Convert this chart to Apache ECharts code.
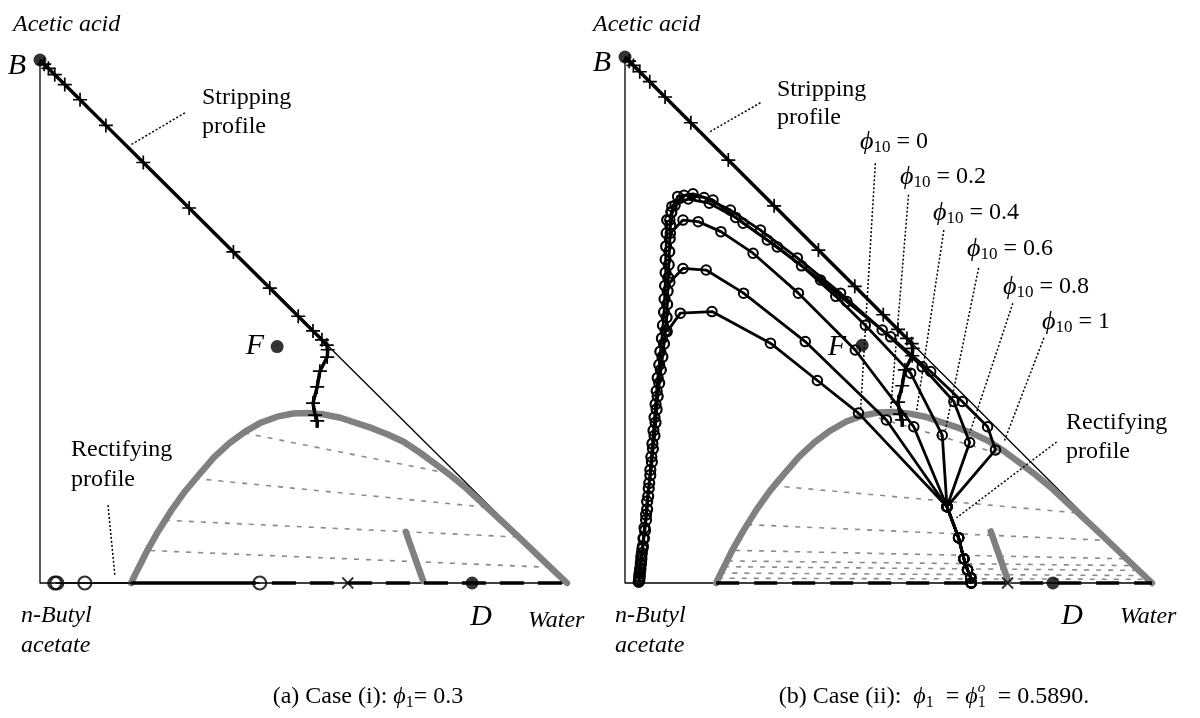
<!DOCTYPE html>
<html><head><meta charset="utf-8">
<script src="https://cdn.jsdelivr.net/npm/echarts@6.0.0/dist/echarts.min.js"></script>
<style>html,body{margin:0;padding:0;background:#fff}#c{width:1200px;height:718px}</style>
</head><body><div id="c"></div>
<script>
// ---- data (x = water fraction, y = acetic acid fraction) ----
const triangle = [[0,1],[0,0],[1,0],[0,1]];
const binodal = [[0.173,0],[0.18,0.015],[0.19,0.035],[0.205,0.065],[0.225,0.1],[0.25,0.14],[0.275,0.175],[0.30,0.205],[0.33,0.24],[0.36,0.268],[0.39,0.29],[0.42,0.307],[0.45,0.318],[0.48,0.324],[0.51,0.325],[0.54,0.322],[0.57,0.316],[0.60,0.306],[0.63,0.296],[0.66,0.284],[0.69,0.27],[0.72,0.25],[0.75,0.228],[0.78,0.205],[0.81,0.18],[0.84,0.152],[0.87,0.124],[0.90,0.096],[0.93,0.067],[0.96,0.038],[0.98,0.019],[1.0,0]];
const grayStub = [[0.694,0.098],[0.727,0.004]];
const tieLeft = [[[0.387,0.287],[0.763,0.212]],[[0.293,0.200],[0.845,0.145]],[[0.237,0.120],[0.905,0.088]],[[0.209,0.062],[0.968,0.030]]];
const tieRight = [[[0.46,0.320],[0.74,0.237]],[[0.28,0.185],[0.86,0.133]],[[0.232,0.111],[0.915,0.081]],[[0.209,0.062],[0.95,0.046]],[[0.195,0.042],[0.965,0.033]],[[0.188,0.031],[0.975,0.024]],[[0.181,0.019],[0.985,0.014]],[[0.176,0.009],[0.992,0.007]]];
const stripping = [[0,1],[0.008,0.992],[0.016,0.984],[0.028,0.972],[0.047,0.953],[0.076,0.924],[0.125,0.875],[0.196,0.804],[0.283,0.717],[0.367,0.633],[0.436,0.564],[0.490,0.510],[0.518,0.482],[0.535,0.465],[0.544,0.455],[0.546,0.446],[0.545,0.432],[0.531,0.405],[0.526,0.375],[0.518,0.344],[0.522,0.321],[0.526,0.310],[0.526,0.297]];
const bottomSolidLeft = [[0.173,0],[0.41,0]];
const bottomDashLeft = [[0.44,0],[1,0]];
const bottomDashRight = [[0.173,0],[1,0]];
const rectLeftLine = [[0.03,0],[0.417,0]];
const rectLeftCircles = [[0.028,0],[0.032,0],[0.085,0],[0.417,0]];
const pointB = [[0,1]];
const pointF = [[0.45,0.452]];
const pointDLeft = [[0.82,0]];
const pointDRight = [[0.812,0]];
const crossLeft = [[0.584,0]];
const crossRight = [[0.726,0]];
// right panel rectifying profiles
const distStack = [[0.657,0.000],[0.656,0.010],[0.650,0.025],[0.643,0.046],[0.633,0.086],[0.611,0.145]];
const upperPhi0 = [[0.443,0.323],[0.365,0.385],[0.276,0.456],[0.165,0.516],[0.105,0.513],[0.080,0.478]];
const upperPhi02 = [[0.496,0.310],[0.342,0.459],[0.225,0.551],[0.154,0.595],[0.110,0.598],[0.085,0.572]];
const upperPhi04 = [[0.548,0.297],[0.437,0.443],[0.329,0.551],[0.243,0.627],[0.182,0.668],[0.139,0.687],[0.110,0.690],[0.086,0.665]];
const upperPhi06 = [[0.602,0.281],[0.542,0.399],[0.456,0.490],[0.400,0.545],[0.335,0.603],[0.270,0.652],[0.210,0.695],[0.160,0.722],[0.120,0.730],[0.095,0.718],[0.085,0.690]];
const upperPhi08 = [[0.654,0.267],[0.624,0.345],[0.564,0.411],[0.488,0.481],[0.409,0.551],[0.327,0.618],[0.257,0.671],[0.200,0.709],[0.150,0.733],[0.112,0.737],[0.089,0.716]];
const upperPhi1 = [[0.703,0.253],[0.688,0.297],[0.640,0.345],[0.580,0.402],[0.504,0.468],[0.421,0.535],[0.371,0.576],[0.289,0.639],[0.224,0.684],[0.167,0.728],[0.129,0.740],[0.100,0.735],[0.088,0.705]];
const column = [[0.088,0.705],[0.086,0.68],[0.085,0.655],[0.084,0.63],[0.083,0.605],[0.082,0.58],[0.081,0.555],[0.080,0.53],[0.079,0.505],[0.077,0.48],[0.074,0.455],[0.071,0.43],[0.068,0.405],[0.065,0.38],[0.062,0.355],[0.060,0.33],[0.058,0.305],[0.056,0.28],[0.053,0.255],[0.051,0.23],[0.048,0.205],[0.045,0.18],[0.042,0.155],[0.040,0.13],[0.037,0.105],[0.035,0.085],[0.033,0.065],[0.031,0.05],[0.030,0.038],[0.029,0.028],[0.028,0.02],[0.027,0.013],[0.027,0.007],[0.026,0.002]];
const column2 = [[0.080,0.69],[0.079,0.665],[0.078,0.64],[0.077,0.615],[0.077,0.59],[0.076,0.565],[0.075,0.54],[0.074,0.515],[0.072,0.49],[0.070,0.465],[0.067,0.44],[0.065,0.415],[0.062,0.39],[0.060,0.365],[0.058,0.34],[0.056,0.315],[0.054,0.29],[0.052,0.265],[0.050,0.24],[0.048,0.215],[0.046,0.19],[0.044,0.165],[0.042,0.14],[0.040,0.12],[0.038,0.10],[0.036,0.085],[0.034,0.07],[0.032,0.057],[0.031,0.045],[0.030,0.035],[0.029,0.025],[0.028,0.018],[0.028,0.012],[0.027,0.004]];
// leader lines
const leadersLeft = [[[0.275,0.899],[0.171,0.837]],[[0.129,0.149],[0.142,0.015]]];
const leadersRight = [[[0.257,0.913],[0.158,0.856]],[[0.475,0.798],[0.447,0.329]],[[0.538,0.738],[0.504,0.329]],[[0.605,0.671],[0.553,0.325]],[[0.671,0.599],[0.608,0.291]],[[0.736,0.532],[0.654,0.285]],[[0.795,0.466],[0.719,0.268]],[[0.819,0.268],[0.629,0.124]]];
const phiLabels = ['0','0.2','0.4','0.6','0.8','1'];

// ---- helpers ----
const FF = '"Liberation Serif","Times New Roman",Times,serif';
const PLUS = 'path://M5,0L5,10M0,5L10,5';
const CROSS = 'path://M0,0L10,10M10,0L0,10';
const series = [];
function line(g, data, o) {
  o = o || {};
  series.push({type:'line', xAxisIndex:g, yAxisIndex:g, data:data, clip:false, silent:true, z:o.z||3,
    symbol:o.symbol||'none', symbolSize:o.size||9, showAllSymbol:true,
    itemStyle:{color:'rgba(255,255,255,0)', borderColor:'#000', borderWidth:o.bw||1.7},
    lineStyle:{color:o.color||'#000', width:o.width==null?1.3:o.width, type:o.type||'solid', cap:o.cap||'butt', join:'round'}});
}
function dots(g, data, o) {
  o = o || {};
  series.push({type:'scatter', xAxisIndex:g, yAxisIndex:g, data:data, clip:false, silent:true, z:o.z||8,
    symbol:o.symbol||'circle', symbolSize:o.size||13,
    itemStyle:o.hollow?{color:'rgba(255,255,255,0)', borderColor:'#000', borderWidth:o.bw||1.7}:{color:'#000', borderColor:'#000', borderWidth:o.bw||0}});
}
function segs(g, arr, o) {
  series.push({type:'lines', coordinateSystem:'cartesian2d', xAxisIndex:g, yAxisIndex:g, silent:true, z:o.z||2,
    data:arr.map(c=>({coords:c})), lineStyle:{color:o.color, width:o.width, type:o.type, opacity:1}});
}
function panelCommon(g, ties) {
  line(g, triangle, {width:1.3, z:1});
  segs(g, ties, {color:'#8a8a8a', width:1.6, type:[5,7], z:2});
  line(g, binodal, {color:'#808080', width:6.5, cap:'round', z:3});
  line(g, grayStub, {color:'#808080', width:6.5, cap:'round', z:3});
}
// left panel
panelCommon(0, tieLeft);
line(0, bottomSolidLeft, {width:3.5, z:4});
line(0, bottomDashLeft, {width:3.5, type:[24,14], z:4});
line(0, rectLeftLine, {width:1.5, z:5});
dots(0, rectLeftCircles, {hollow:true, size:13, bw:2.2});
line(0, stripping.map((p,i)=> (i===0||i===stripping.length-1)?{value:p, symbol:'none'}:p), {width:3.5, symbol:PLUS, size:14, bw:1.7, z:6});
dots(0, crossLeft, {symbol:CROSS, hollow:true, size:11, bw:1.8});
dots(0, pointB); dots(0, pointF); dots(0, pointDLeft);
segs(0, leadersLeft, {color:'#000', width:1.5, type:[2,2], z:7});
// right panel
panelCommon(1, tieRight);
line(1, bottomDashRight, {width:3.5, type:[23,15], z:4});
[upperPhi0, upperPhi02, upperPhi04, upperPhi06, upperPhi08, upperPhi1].forEach(u => {
  line(1, distStack.concat(u), {width:2.8, symbol:'circle', size:9.5, bw:2, z:5});
});
line(1, column, {width:3, symbol:'circle', size:10, bw:2.2, z:5});
line(1, column2, {width:2.6, symbol:'circle', size:10, bw:2.2, z:5});
line(1, stripping.map((p,i)=> (i===0||i===stripping.length-1)?{value:p, symbol:'none'}:p), {width:3.5, symbol:PLUS, size:14, bw:1.7, z:6});
dots(1, crossRight, {symbol:CROSS, hollow:true, size:11, bw:1.8});
dots(1, pointB); dots(1, pointF); dots(1, pointDRight);
segs(1, leadersRight, {color:'#000', width:1.5, type:[2,2], z:7});

// ---- text ----
const ctx = document.createElement('canvas').getContext('2d');
function fnt(size, it) { return (it?'italic ':'') + size + 'px ' + FF; }
function tw(t, f) { ctx.font = f; return ctx.measureText(t).width; }
const graphics = [];
function txt(parts, x, y, align) {
  // parts: [text, size, italic, dy, noAdvance]
  let total = 0;
  parts.forEach(p => { if (!p[4]) total += tw(p[0], fnt(p[1], p[2])); });
  let cx = align === 'center' ? x - total/2 : x;
  parts.forEach(p => {
    const f = fnt(p[1], p[2]);
    graphics.push({type:'text', x:cx, y:y + (p[3]||0), silent:true, z:100,
      style:{text:p[0], font:f, fill:'#000', textAlign:'left', textVerticalAlign:'middle', align:'left', verticalAlign:'middle'}});
    if (!p[4]) cx += tw(p[0], f);
  });
}
// left
txt([['Acetic acid',24,true]], 13, 25);
txt([['B',30,true]], 17, 66, 'center');
txt([['Stripping',24,false]], 202, 98);
txt([['profile',24,false]], 202, 127);
txt([['F',30,true]], 255, 346, 'center');
txt([['Rectifying',24,false]], 71, 450);
txt([['profile',24,false]], 71, 480);
txt([['n-Butyl',24,true]], 21, 616);
txt([['acetate',24,true]], 21, 646);
txt([['D',30,true]], 481, 617, 'center');
txt([['Water',24,true]], 528, 621);
txt([['(a) Case (i): ',24,false],['ϕ',24,true],['1',16,false,6],['= 0.3',24,false]], 368, 697, 'center');
// right
txt([['Acetic acid',24,true]], 593, 25);
txt([['B',30,true]], 602, 63, 'center');
txt([['Stripping',24,false]], 777, 90);
txt([['profile',24,false]], 777, 118);
txt([['F',30,true]], 837, 347, 'center');
const phiPos = [[860,142],[900,177],[933,213],[967,249],[1003,287],[1042,322]];
phiLabels.forEach((l,i) => txt([['ϕ',26,true],['10',17,false,6],[' = ' + l,24,false]], phiPos[i][0], phiPos[i][1]));
txt([['Rectifying',24,false]], 1066, 423);
txt([['profile',24,false]], 1066, 452);
txt([['n-Butyl',24,true]], 615, 616);
txt([['acetate',24,true]], 615, 646);
txt([['D',30,true]], 1072, 616, 'center');
txt([['Water',24,true]], 1120, 617);
txt([['(b) Case (ii):  ',24,false],['ϕ',24,true],['1',16,false,6],['  = ',24,false],['ϕ',24,true],['o',15,true,-9,true],['1',16,false,6],['  = 0.5890.',24,false]], 934, 697, 'center');

const chart = echarts.init(document.getElementById('c'), null, {renderer:'canvas'});
const ax = g => ({gridIndex:g, type:'value', min:0, max:1, show:false});
chart.setOption({
  animation:false,
  backgroundColor:'#fff',
  grid:[{left:40, top:60, width:527, height:523}, {left:625, top:57, width:527, height:526}],
  xAxis:[ax(0), ax(1)],
  yAxis:[ax(0), ax(1)],
  series:series,
  graphic:graphics
});
</script></body></html>
